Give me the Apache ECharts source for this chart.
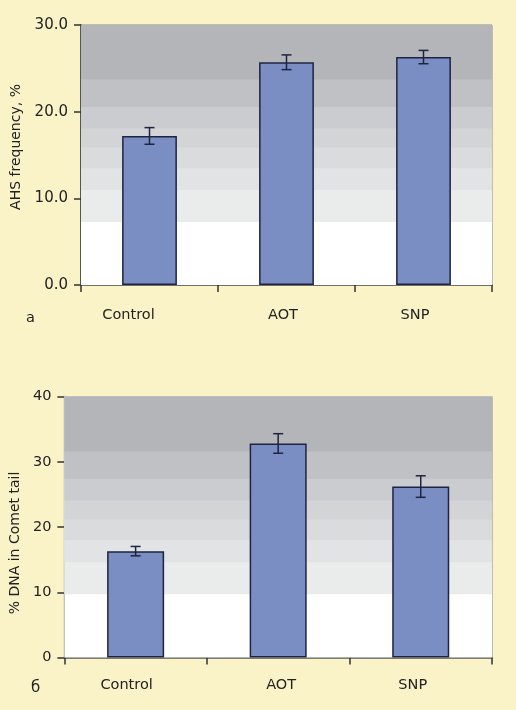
<!DOCTYPE html>
<html>
<head>
<meta charset="utf-8">
<script src="https://cdn.jsdelivr.net/npm/echarts@6/dist/echarts.min.js"></script>
<style>
html,body{margin:0;padding:0;background:#fbf3c8;}
#chart{width:516px;height:710px;}
</style>
</head>
<body>
<div id="chart"></div>
<script>
// ---- data ----
const categories = ['Control', 'AOT', 'SNP'];
const ahsMean = [17.2, 25.7, 26.3];
const ahsErr = [0.96, 0.85, 0.77];
const dnaMean = [16.3, 32.8, 26.2];
const dnaErr = [0.72, 1.5, 1.65];
const ahsTicks = [0, 10, 20, 30];
const dnaTicks = [0, 10, 20, 30, 40];
const panelLabels = ['a', 'б'];
const axisNames = ['AHS frequency, %', '% DNA in Comet tail'];

// ---- style ----
const FONT = 'DejaVu Sans';
const TXT = '#222';
const BAR = '#7b8ec4';
const EDGE = '#1e2440';
// background bands as fractions of plot height (decorative gradient)
const BAND_FR = [0, 0.242, 0.365, 0.449, 0.529, 0.602, 0.685, 0.79];
const BAND_COL = ['#ffffff', '#eaebeb', '#e2e3e4', '#dadbdd', '#d3d4d6', '#cbcccf', '#c0c1c4', '#b4b5b9'];
// horizontal label shifts (px, positive = left) per category, per panel
const LABEL_SHIFT = [[21, 3.5, 8.5], [9, -3, 8]];

function bands(max) {
  return BAND_COL.map((c, i) => [{ yAxis: BAND_FR[i] * max, itemStyle: { color: c } }, { yAxis: max }]);
}

function errData(mean, err) {
  return mean.map((m, i) => [i, m - err[i], m + err[i]]);
}

function errRender(params, api) {
  const x = api.value(0);
  const lo = api.coord([x, api.value(1)]);
  const hi = api.coord([x, api.value(2)]);
  const hw = 5;
  const st = { stroke: EDGE, lineWidth: 1.5 };
  return {
    type: 'group',
    children: [
      { type: 'line', shape: { x1: hi[0], y1: hi[1], x2: lo[0], y2: lo[1] }, style: st },
      { type: 'line', shape: { x1: hi[0] - hw, y1: hi[1], x2: hi[0] + hw, y2: hi[1] }, style: st },
      { type: 'line', shape: { x1: lo[0] - hw, y1: lo[1], x2: lo[0] + hw, y2: lo[1] }, style: st }
    ]
  };
}

function xAxis(gi, margin) {
  const rich = {};
  categories.forEach((c, i) => {
    const s = LABEL_SHIFT[gi][i];
    rich['c' + i] = { color: TXT, fontFamily: FONT, fontSize: 14.5,
      padding: s >= 0 ? [0, 2 * s, 0, 0] : [0, 0, 0, -2 * s] };
  });
  return {
    type: 'category', gridIndex: gi, data: categories, boundaryGap: true,
    axisLine: { lineStyle: { color: '#555', width: 1.5 } },
    axisTick: { show: true, length: 7, inside: false, lineStyle: { color: '#333', width: 1.5 } },
    axisLabel: { color: TXT, fontFamily: FONT, fontSize: 14.5, margin: margin,
      formatter: (v, i) => '{c' + i + '|' + v + '}', rich: rich }
  };
}

function yAxis(gi, ticks, decimals, nameGap, pad, fs) {
  return {
    type: 'value', gridIndex: gi, min: ticks[0], max: ticks[ticks.length - 1],
    interval: ticks[1] - ticks[0],
    name: axisNames[gi], nameLocation: 'middle', nameGap: nameGap,
    nameTextStyle: { color: TXT, fontFamily: FONT, fontSize: 14, padding: pad },
    axisLine: { show: true, lineStyle: { color: '#333', width: 1.5 } },
    axisTick: { show: true, length: 7, lineStyle: { color: '#333', width: 1.5 } },
    splitLine: { show: false },
    axisLabel: { color: TXT, fontFamily: FONT, fontSize: fs, margin: 13,
      formatter: v => v.toFixed(decimals) }
  };
}

const chart = echarts.init(document.getElementById('chart'), null, { renderer: 'canvas' });
chart.setOption({
  backgroundColor: '#fbf3c8',
  animation: false,
  grid: [
    { left: 81, top: 25, width: 411, height: 260, show: true, borderColor: '#8a8a8a', borderWidth: 1, backgroundColor: 'transparent' },
    { left: 64, top: 396.5, width: 428, height: 261, show: true, borderColor: '#8a8a8a', borderWidth: 1, backgroundColor: 'transparent' }
  ],
  xAxis: [xAxis(0, 23), xAxis(1, 20)],
  yAxis: [yAxis(0, ahsTicks, 1, 58, [0, 0, 0, 16], 15), yAxis(1, dnaTicks, 0, 42, [0, 32, 0, 0], 14.5)],
  graphic: [
    { type: 'text', left: 26, top: 311, style: { text: panelLabels[0], font: '14.5px ' + FONT, fill: TXT } },
    { type: 'text', left: 31, top: 681, style: { text: panelLabels[1], font: '15px ' + FONT, fill: TXT } }
  ],
  series: [
    { type: 'line', xAxisIndex: 0, yAxisIndex: 0, data: [], z: 0, silent: true,
      markArea: { silent: true, data: bands(ahsTicks[ahsTicks.length - 1]) } },
    { type: 'line', xAxisIndex: 1, yAxisIndex: 1, data: [], z: 0, silent: true,
      markArea: { silent: true, data: bands(dnaTicks[dnaTicks.length - 1]) } },
    { type: 'bar', xAxisIndex: 0, yAxisIndex: 0, data: ahsMean, barWidth: '40%', z: 3,
      itemStyle: { color: BAR, borderColor: EDGE, borderWidth: 1.5 } },
    { type: 'bar', xAxisIndex: 1, yAxisIndex: 1, data: dnaMean, barWidth: '40%', z: 3,
      itemStyle: { color: BAR, borderColor: EDGE, borderWidth: 1.5 } },
    { type: 'custom', xAxisIndex: 0, yAxisIndex: 0, data: errData(ahsMean, ahsErr), renderItem: errRender, z: 4 },
    { type: 'custom', xAxisIndex: 1, yAxisIndex: 1, data: errData(dnaMean, dnaErr), renderItem: errRender, z: 4 }
  ]
});
</script>
</body>
</html>
